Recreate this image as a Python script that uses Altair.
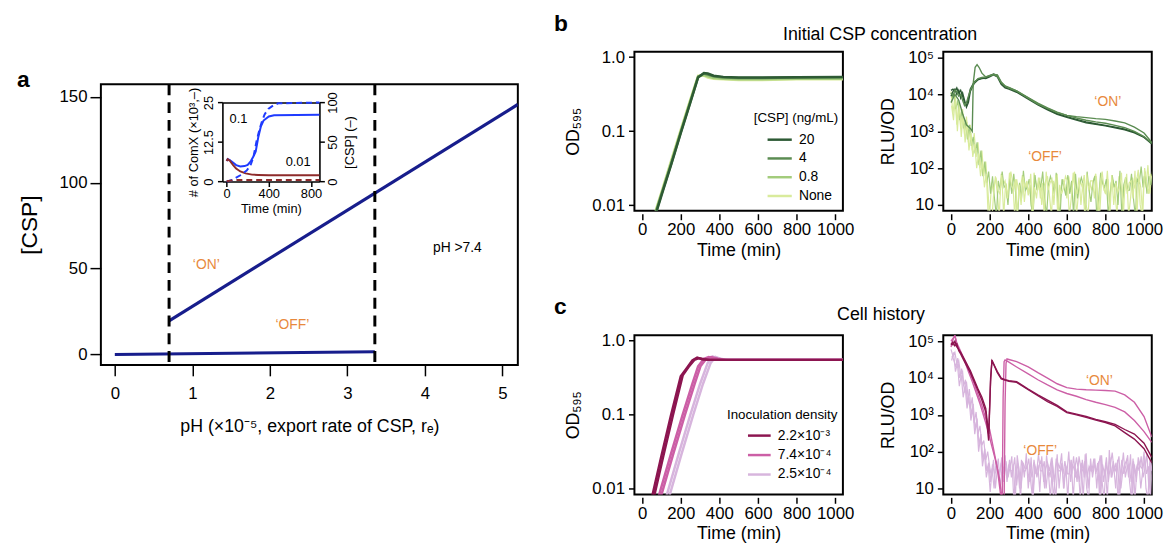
import altair as alt
import pandas as pd

FONT = "Liberation Sans"
ORANGE = "#E8893C"
NAVY = "#171D8C"

# ---------------- panel a : [CSP] vs pH ----------------
a_on_x = [0.70, 5.20]
a_on_y = [19.6, 145.6]
a_off_x = [0.00, 3.355]
a_off_y = [0.0, 1.6]
a_thresholds = [0.70, 3.355]
a_note_text = ["‘ON’", "‘OFF’", "pH >7.4"]
a_note_x = [1.18, 2.29, 4.42]
a_note_y = [52.0, 17.0, 62.0]
a_note_color = [ORANGE, ORANGE, "#000000"]

# inset (time course of ComX / CSP)
in_blue_solid_t = [0, 10, 30, 60, 90, 130, 170, 200, 230, 255, 276, 300, 325, 350, 400, 450, 880]
in_blue_solid_v = [6.5, 7.1, 6.8, 6.0, 5.2, 4.8, 4.9, 5.3, 6.5, 8.0, 9.5, 14.0, 17.5, 19.3, 20.6, 21.0, 21.1]
in_red_solid_t = [0, 10, 30, 60, 90, 130, 180, 240, 300, 400, 880]
in_red_solid_v = [6.5, 7.1, 6.6, 5.3, 4.1, 3.2, 2.6, 2.2, 2.1, 2.0, 2.0]
in_blue_dash_t = [0, 50, 130, 190, 225, 254, 285, 310, 332, 360, 395, 450, 490, 880]
in_blue_dash_v = [0, 2, 8, 14, 20, 31, 52, 65, 75, 85, 92, 97, 99, 100]
in_red_dash_t = [0, 50, 100, 200, 400, 880]
in_red_dash_v = [0.5, 1.5, 2.0, 2.1, 2.1, 2.1]
in_note_text = ["0.1", "0.01"]
in_note_t = [113, 678]
in_note_v = [19.8, 6.1]

# ---------------- panel b : initial CSP concentration ----------------
b_groups = ["20", "4", "0.8", "None"]
b_colors = ["#2D5A34", "#5B8C52", "#A3CC7C", "#D9EB9C"]

b_od_t = [70, 100, 150, 200, 250, 290, 320, 340, 370, 420, 500, 600, 800, 1040]
b_od_20 = [0.0075, 0.0135, 0.035, 0.094, 0.245, 0.53, 0.61, 0.60, 0.56, 0.54, 0.53, 0.53, 0.535, 0.54]
b_od_4 = [0.0078, 0.014, 0.036, 0.096, 0.25, 0.54, 0.60, 0.58, 0.55, 0.53, 0.52, 0.52, 0.53, 0.53]
b_od_08 = [0.0082, 0.0145, 0.038, 0.10, 0.26, 0.55, 0.57, 0.55, 0.52, 0.51, 0.50, 0.50, 0.51, 0.51]
b_od_none = [0.0085, 0.015, 0.040, 0.105, 0.27, 0.56, 0.56, 0.53, 0.51, 0.50, 0.49, 0.49, 0.50, 0.50]

b_on_t = [0, 10, 20, 30, 40, 50, 60, 70, 80, 90, 100, 120, 140, 160, 180, 200, 220, 240, 260, 280,
          300, 340, 400, 450, 500, 550, 600, 650, 700, 750, 800, 850, 900, 950, 1000, 1040]
b_on_A = [13000, 14000, 12000, 15000, 11000, 13000, 9000, 6000, 5000, 8000, 14000, 22000, 26000, 27000,
          28000, 32000, 36000, 33000, 20000, 16000, 15000, 12000, 8000, 5500, 4000, 3000, 2500, 2100,
          1800, 1600, 1450, 1300, 1150, 950, 700, 480]
b_on_B = [9000, 12000, 14000, 10000, 13000, 8000, 11000, 7000, 4500, 6000, 12000, 20000, 25000, 28000,
          27000, 30000, 34000, 30000, 19000, 15000, 14000, 11500, 7500, 5200, 3800, 2900, 2400, 2000,
          1700, 1550, 1400, 1250, 1100, 900, 680, 450]
b_on_D = [11000, 9000, 13000, 12000, 9000, 10000, 7000, 5000, 6000, 9000, 13000, 21000, 27000, 29000,
          30000, 33000, 35000, 31000, 21000, 17000, 15500, 12500, 8200, 5800, 4300, 3300, 2700, 2300,
          2000, 1800, 1650, 1450, 1250, 1000, 720, 470]
b_spike_t = [0, 20, 40, 60, 80, 100, 110, 115, 125, 135, 145, 160, 180, 200, 220, 240, 260, 280, 300,
             340, 400, 450, 500, 550, 600, 650, 700, 750, 800, 850, 900, 950, 1000, 1040]
b_spike_v = [6000, 10000, 7000, 3000, 1500, 1200, 1000, 20000, 55000, 65000, 55000, 38000, 30000, 32000,
             35000, 34000, 22000, 17000, 15000, 12500, 8000, 5500, 4200, 3200, 2700, 2500, 2350, 2200,
             2100, 1900, 1700, 1300, 900, 500]

# OFF traces, sampled every 10 min (start given per trace)
b_off1 = [12000, 3000, 9000, 1500, 6000, 1200, 4000, 800, 2500, 500, 1500, 300, 900, 200, 500, 100, 300, 60, 150, 30, 5,
          40, 22, 60, 20, 5, 70, 35, 45, 15, 30, 80, 40, 5, 50, 25, 30, 65, 12, 40, 18,
          35, 5, 75, 40, 25, 55, 10, 30, 45, 60, 18, 5, 45, 28, 70, 5, 25, 50, 35, 15,
          60, 22, 35, 80, 5, 20, 45, 30, 65, 10, 5, 40, 25, 50, 70, 15, 5, 50, 30, 20,
          85, 12, 40, 45, 20, 5, 60, 35, 15, 25, 70, 5, 15, 55, 30, 40, 90, 10, 5, 60, 30, 120, 20, 60]
b_off2 = [8000, 11000, 4000, 7000, 2000, 3500, 1200, 2000, 600, 1500, 400, 700, 250, 500, 120, 300, 60, 150, 40, 80, 20,
          60, 15, 5, 45, 25, 80, 30, 35, 10, 55, 20, 70, 20, 5, 40, 15, 85, 25, 30, 50,
          10, 5, 65, 25, 45, 30, 80, 15, 5, 35, 60, 40, 20, 75, 10, 5, 50, 30, 18, 65,
          20, 45, 5, 70, 15, 35, 55, 35, 5, 80, 25, 12, 40, 60, 5, 15, 75, 40, 30, 50,
          5, 20, 65, 30, 45, 10, 85, 5, 35, 55, 25, 25, 70, 15, 5, 50, 40, 110, 30, 80, 20, 60, 35, 90]
b_off3 = [5000, 2000, 10000, 1000, 6000, 700, 3000, 500, 1800, 300, 900, 200, 450, 100, 250, 60, 150, 30, 70, 5, 5,
          5, 30, 55, 25, 20, 65, 5, 40, 15, 75, 35, 25, 50, 5, 35, 10, 60, 30, 45, 20,
          70, 5, 30, 15, 55, 15, 40, 5, 80, 25, 40, 50, 10, 65, 5, 35, 20, 30, 60, 45,
          5, 15, 75, 30, 20, 55, 10, 40, 5, 70, 25, 45, 45, 15, 60, 5, 35, 80, 25, 20,
          50, 5, 65, 10, 40, 22, 30, 75, 5, 55, 20, 40, 45, 15, 85, 5, 60, 30, 5, 100, 40, 20, 70, 50]
b_off_start = [0, 5, 3]
b_note_text = ["‘ON’", "‘OFF’"]
b_note_t = [812, 487]
b_note_v = [6200, 195]

# ---------------- panel c : cell history ----------------
c_groups = ["2.2×10⁻³", "7.4×10⁻⁴", "2.5×10⁻⁴"]
c_colors = ["#8C1550", "#CC5FA6", "#D7B5DD"]

c_od_d1_t = [50, 100, 150, 200, 230, 260, 285, 310, 340, 400, 500, 700, 1040]
c_od_d1_v = [0.0075, 0.028, 0.10, 0.33, 0.42, 0.54, 0.59, 0.56, 0.55, 0.55, 0.55, 0.55, 0.55]
c_od_d2_t = [60, 110, 160, 210, 240, 270, 295, 320, 350, 400, 500, 700, 1040]
c_od_d2_v = [0.0075, 0.028, 0.10, 0.34, 0.44, 0.55, 0.58, 0.56, 0.55, 0.55, 0.55, 0.55, 0.55]
c_od_m1_t = [85, 150, 210, 260, 290, 320, 345, 380, 420, 500, 700, 1040]
c_od_m1_v = [0.0078, 0.03, 0.10, 0.26, 0.45, 0.57, 0.60, 0.57, 0.55, 0.55, 0.55, 0.55]
c_od_m2_t = [97, 162, 222, 272, 302, 332, 357, 392, 432, 500, 700, 1040]
c_od_m2_v = [0.0078, 0.03, 0.10, 0.26, 0.45, 0.57, 0.60, 0.57, 0.55, 0.55, 0.55, 0.55]
c_od_l1_t = [125, 190, 250, 300, 340, 365, 390, 430, 500, 700, 1040]
c_od_l1_v = [0.0078, 0.03, 0.10, 0.26, 0.50, 0.61, 0.58, 0.55, 0.55, 0.55, 0.55]
c_od_l2_t = [140, 205, 265, 315, 355, 380, 405, 445, 500, 700, 1040]
c_od_l2_v = [0.0078, 0.03, 0.10, 0.26, 0.50, 0.60, 0.57, 0.55, 0.55, 0.55, 0.55]

c_dark_t = [0, 10, 20, 30, 40, 50, 60, 80, 100, 120, 140, 160, 180, 195, 205, 212, 220, 240, 260, 280,
            300, 340, 400, 450, 500, 550, 600, 650, 700, 750, 800, 850, 900, 950, 1000, 1040]
c_dark_E = [90000, 80000, 100000, 70000, 60000, 50000, 40000, 25000, 16000, 9000, 5000, 3000, 1500, 300,
            8000, 31000, 25000, 15000, 10000, 9000, 8500, 8000, 5000, 3500, 2500, 1800, 1200, 1050, 900,
            750, 650, 550, 400, 300, 170, 70]
c_dark_F = [80000, 95000, 75000, 85000, 55000, 45000, 35000, 22000, 14000, 8000, 4500, 2500, 1200, 200,
            10000, 29000, 24000, 14000, 9500, 8800, 8200, 7600, 4800, 3300, 2300, 1700, 1150, 1000, 850,
            720, 620, 500, 330, 220, 120, 50]
c_mid_G_t = [0, 10, 20, 30, 40, 60, 80, 100, 120, 140, 160, 180, 200, 220, 240, 255, 265, 270, 275, 280,
             300, 340, 400, 450, 500, 550, 600, 650, 700, 750, 800, 850, 900, 950, 1000, 1040]
c_mid_G = [100000, 120000, 140000, 90000, 70000, 40000, 25000, 13000, 7000, 3500, 1800, 800, 400, 120, 35,
           8, 3, 3000, 28000, 31000, 27000, 20000, 13000, 9000, 6500, 4800, 3800, 3200, 2600, 2200, 1900,
           1600, 1200, 700, 350, 180]
c_mid_H_t = [0, 10, 20, 30, 50, 70, 90, 110, 130, 150, 170, 190, 210, 230, 250, 265, 275, 280, 285, 290,
             300, 340, 400, 450, 500, 550, 600, 650, 700, 750, 800, 850, 900, 950, 1000, 1040]
c_mid_H = [70000, 110000, 150000, 80000, 50000, 30000, 15000, 8000, 4000, 2000, 900, 400, 150, 60, 20, 5, 4,
           2000, 25000, 33000, 32000, 28000, 20000, 14000, 10000, 7000, 5500, 5000, 4800, 4700, 4600, 4400,
           3500, 2200, 900, 250]
c_off1 = [60000, 40000, 50000, 25000, 30000, 12000, 15000, 4000, 8000, 2500, 1500, 3000, 600, 1200, 300, 500, 150, 200, 60, 100, 40,
          20, 60, 10, 35, 25, 50, 25, 80, 15, 45, 30, 30, 70, 12, 40, 5, 55, 20, 90, 10,
          35, 20, 60, 25, 45, 8, 75, 15, 35, 50, 30, 65, 5, 20, 85, 10, 40, 25, 55, 25,
          100, 15, 45, 30, 70, 30, 5, 60, 20, 90, 10, 40, 30, 65, 25, 50, 5, 80, 15, 35,
          5, 110, 20, 55, 30, 40, 75, 10, 30, 45, 60, 20, 85, 5, 45, 15, 70, 40, 35, 100, 10, 5, 60, 30]
c_off2 = [40000, 30000, 20000, 35000, 10000, 18000, 6000, 9000, 2000, 5000, 1000, 2000, 400, 800, 150, 300, 60, 120, 30, 50, 15,
          45, 25, 30, 65, 10, 40, 35, 55, 20, 35, 75, 5, 25, 50, 10, 60, 30, 30, 45, 15,
          70, 5, 40, 20, 40, 55, 35, 10, 80, 25, 5, 45, 15, 65, 30, 30, 50, 10, 40, 5,
          60, 25, 75, 20, 35, 15, 50, 5, 85, 20, 40, 30, 30, 65, 10, 55, 5, 45, 25, 70,
          15, 40, 95, 30, 50, 5, 20, 60, 25, 40, 80, 15, 5, 55, 25, 45, 30, 75, 20, 35, 90, 10, 50, 25]
c_off3 = [30000, 50000, 15000, 25000, 6000, 12000, 3000, 6000, 1500, 3000, 700, 1500, 300, 700, 100, 250, 40, 90, 20, 40, 8,
          35, 10, 55, 30, 25, 70, 15, 40, 20, 60, 20, 45, 5, 80, 30, 10, 50, 35, 35, 65,
          15, 5, 45, 25, 85, 30, 30, 55, 10, 40, 20, 70, 20, 5, 50, 35, 90, 10, 45, 25,
          25, 60, 5, 40, 15, 75, 35, 30, 55, 10, 5, 65, 20, 45, 30, 35, 80, 15, 5, 50,
          25, 70, 20, 40, 10, 60, 5, 30, 95, 20, 40, 45, 15, 65, 5, 35, 55, 10, 30, 75, 25, 40, 5, 60]
c_off_start = [0, 5, 3]
c_note_text = ["‘ON’", "‘OFF’"]
c_note_t = [769, 462]
c_note_v = [8100, 105]

# ---------------- layout constants ----------------
SPACER_H = 17
S_TOP = 34
S_ROWS = 35
S_COLS = 101.6
PW, PH = 211, 161


def trace_df(t, v, trace, grp):
    return pd.DataFrame({"t": t, "v": v, "trace": trace, "grp": grp})


def sampled_df(v, start, trace, grp):
    return trace_df([start + 10 * i for i in range(len(v))], v, trace, grp)


one = pd.DataFrame({"k": [0]})

# ================= panel a =================
ax_main_x = alt.Axis(values=[0, 1, 2, 3, 4, 5], title="pH (×10⁻⁵, export rate of CSP, rₑ)", format="d",
                     tickSize=11, labelFontSize=17, titleFontSize=18, labelPadding=10, titlePadding=16,
                     domain=False, labelFlush=False, labelOverlap=False)
ax_main_y = alt.Axis(values=[0, 50, 100, 150], title="[CSP]", format="d", tickSize=11, labelFontSize=17,
                     titleFontSize=23, labelPadding=3, titlePadding=18, domain=False)
mx = alt.X("x:Q", scale=alt.Scale(domain=[-0.18, 5.2], nice=False, zero=False), axis=ax_main_x)
my = alt.Y("y:Q", scale=alt.Scale(domain=[-6.1, 157.3], nice=False, zero=False), axis=ax_main_y)

a_on = alt.Chart(pd.DataFrame({"x": a_on_x, "y": a_on_y})).mark_line(color=NAVY, strokeWidth=3.2, clip=True).encode(x=mx, y=my)
a_off = alt.Chart(pd.DataFrame({"x": a_off_x, "y": a_off_y})).mark_line(color=NAVY, strokeWidth=3.2, clip=True).encode(x=mx, y=my)
a_rules = alt.Chart(pd.DataFrame({"x": a_thresholds})).mark_rule(color="black", strokeWidth=3, strokeDash=[11, 7]).encode(x=mx)
a_notes = alt.Chart(pd.DataFrame({"x": a_note_x, "y": a_note_y, "label": a_note_text, "c": a_note_color})).mark_text(
    fontSize=14).encode(x=mx, y=my, text="label:N", color=alt.Color("c:N", scale=None))
a_letter = alt.Chart(one).mark_text(text="a", fontSize=23, fontWeight="bold", align="left", baseline="alphabetic").encode(
    x=alt.value(-85), y=alt.value(3))
main_group = alt.layer(a_on, a_off, a_rules, a_notes, a_letter)

ax_in_x = alt.Axis(orient="bottom", offset=-185.6, values=[0, 400, 800], format="d", title="Time (min)",
                   tickSize=5, labelFontSize=13, titleFontSize=13, labelPadding=1, titlePadding=2,
                   domain=True, labelFlush=False, labelOverlap=False)
ax_in_yl = alt.Axis(orient="left", offset=-123, values=[0, 12.5, 25], title="# of ComX (×10³,–)",
                    labelExpr="datum.value == 12.5 ? '12.5' : format(datum.value, 'd')",
                    tickSize=5, labelFontSize=13, titleFontSize=13, labelAngle=270, labelAlign="center",
                    labelBaseline="bottom", labelPadding=2, titlePadding=2, domain=True, labelOverlap=False)
ax_in_yr = alt.Axis(orient="right", offset=-200.8, values=[0, 50, 100], format="d", title="[CSP] (–)",
                    tickSize=5, labelFontSize=13, titleFontSize=13, labelAngle=270, labelAlign="center",
                    labelBaseline="top", labelPadding=2, titlePadding=4, titleAngle=270, titleBaseline="top",
                    domain=True, labelOverlap=False)
ax_in_top = alt.Axis(orient="top", offset=-18.4, ticks=False, labels=False, title=None, domain=True)

ix_scale = alt.Scale(domain=[-40, 880], range=[123, 221.2], nice=False, zero=False)
ix = alt.X("t:Q", scale=ix_scale, axis=ax_in_x)
ix2 = alt.X("t:Q", scale=ix_scale, axis=ax_in_top)
iyl = alt.Y("v:Q", scale=alt.Scale(domain=[0, 25], range=[98.4, 18.4], nice=False, zero=False), axis=ax_in_yl)
iyr = alt.Y("v:Q", scale=alt.Scale(domain=[0, 100], range=[98.4, 18.4], nice=False, zero=False), axis=ax_in_yr)

in_blue = alt.Chart(pd.DataFrame({"t": in_blue_solid_t, "v": in_blue_solid_v})).mark_line(color="#1F3BFF", strokeWidth=2).encode(x=ix, y=iyl)
in_red = alt.Chart(pd.DataFrame({"t": in_red_solid_t, "v": in_red_solid_v})).mark_line(color="#8E2B2B", strokeWidth=2).encode(x=ix, y=iyl)
in_notes = alt.Chart(pd.DataFrame({"t": in_note_t, "v": in_note_v, "label": in_note_text})).mark_text(fontSize=13, color="black").encode(
    x=ix, y=iyl, text="label:N")
inset_left = alt.layer(in_blue, in_red, in_notes)

in_blue_d = alt.Chart(pd.DataFrame({"t": in_blue_dash_t, "v": in_blue_dash_v})).mark_line(color="#1F3BFF", strokeWidth=2, strokeDash=[6, 4]).encode(x=ix2, y=iyr)
in_red_d = alt.Chart(pd.DataFrame({"t": in_red_dash_t, "v": in_red_dash_v})).mark_line(color="#8E2B2B", strokeWidth=2, strokeDash=[6, 4]).encode(x=ix2, y=iyr)
inset_right = alt.layer(in_blue_d, in_red_d)

panel_a = alt.layer(main_group, inset_left, inset_right).resolve_scale(
    x="independent", y="independent").resolve_axis(x="independent", y="independent").properties(width=422, height=284)

spacer = alt.Chart(one).mark_point(opacity=0).encode(x=alt.value(0), y=alt.value(0)).properties(
    width=10, height=SPACER_H, view=alt.ViewBackground(strokeOpacity=0, strokeWidth=0))
left_col = alt.vconcat(spacer, panel_a, spacing=0)

# ================= panels b, c =================
ax_time = alt.Axis(values=[0, 200, 400, 600, 800, 1000], format="d", title="Time (min)", tickSize=6, offset=3,
                   labelFontSize=17, titleFontSize=18, labelPadding=2, titlePadding=4, domain=False,
                   labelFlush=False, labelOverlap=False)
ax_od = alt.Axis(values=[0.01, 0.1, 1.0], title="OD₅₉₅",
                 labelExpr="datum.value > 0.5 ? '1.0' : datum.value > 0.05 ? '0.1' : '0.01'",
                 tickSize=6, labelFontSize=17, titleFontSize=18, labelPadding=4, titlePadding=10, domain=False,
                 labelFlush=False, labelOverlap=False)
ax_rlu = alt.Axis(values=[10, 100, 1000, 10000, 100000], title="RLU/OD",
                  labelExpr="datum.value < 50 ? '10' : datum.value < 500 ? '10²' : datum.value < 5000 ? '10³' : datum.value < 50000 ? '10⁴' : '10⁵'",
                  tickSize=6, labelFontSize=17, titleFontSize=18, labelPadding=4, titlePadding=10, domain=False,
                  labelFlush=False, labelOverlap=False)
tx = alt.X("t:Q", scale=alt.Scale(domain=[-40, 1040], nice=False, zero=False), axis=ax_time)
y_od = alt.Y("v:Q", scale=alt.Scale(type="log", domain=[0.0084, 1.18], nice=False), axis=ax_od)
y_rlu = alt.Y("v:Q", scale=alt.Scale(type="log", domain=[6.9, 145000], nice=False), axis=ax_rlu)


def text_at(label, dx, dy, size, weight="normal", align="center"):
    return alt.Chart(one).mark_text(text=label, fontSize=size, fontWeight=weight, align=align,
                                    baseline="alphabetic", color="black").encode(x=alt.value(dx), y=alt.value(dy))


def notes_layer(ts, vs, labels, y):
    return alt.Chart(pd.DataFrame({"t": ts, "v": vs, "label": labels})).mark_text(
        fontSize=14, color=ORANGE).encode(x=tx, y=y, text="label:N")


# b OD
b_od_df = pd.concat([
    trace_df(b_od_t, b_od_none, "none", "None"),
    trace_df(b_od_t, b_od_08, "08", "0.8"),
    trace_df(b_od_t, b_od_4, "4", "4"),
    trace_df(b_od_t, b_od_20, "20", "20"),
])
b_leg = alt.Legend(orient="none", legendX=120.7, legendY=60, title="[CSP] (ng/mL)", titleFontSize=13.5,
                   titleFontWeight="normal", labelFontSize=14, symbolType="M-2,0L2,0", symbolSize=150,
                   symbolStrokeWidth=2.5, symbolOffset=18.8, labelOffset=12, rowPadding=4, titlePadding=8)
b_od_lines = alt.Chart(b_od_df).mark_line(strokeWidth=2.5, clip=True).encode(
    x=tx, y=y_od, detail="trace:N",
    color=alt.Color("grp:N", scale=alt.Scale(domain=b_groups, range=b_colors), legend=b_leg),
    order=alt.Order("t:Q"))
b_od = alt.layer(b_od_lines, text_at("b", -81.3, -21, 23, "bold", "left")).properties(width=PW, height=PH)

# b RLU
b_off_df = pd.concat([
    sampled_df(b_off1, b_off_start[0], "off1", "None"),
    sampled_df(b_off2, b_off_start[1], "off2", "0.8"),
    sampled_df(b_off3, b_off_start[2], "off3", "None"),
])
b_on_df = pd.concat([
    trace_df(b_on_t, b_on_A, "A", "20"),
    trace_df(b_on_t, b_on_B, "B", "20"),
    trace_df(b_on_t, b_on_D, "D", "4"),
    trace_df(b_spike_t, b_spike_v, "C", "4"),
])
b_col = alt.Color("grp:N", scale=alt.Scale(domain=b_groups, range=b_colors), legend=None)
b_rlu = alt.layer(
    alt.Chart(b_off_df).mark_line(strokeWidth=1.2, clip=True).encode(x=tx, y=y_rlu, color=b_col, detail="trace:N"),
    alt.Chart(b_on_df).mark_line(strokeWidth=1.4, clip=True).encode(x=tx, y=y_rlu, color=b_col, detail="trace:N"),
    notes_layer(b_note_t, b_note_v, b_note_text, y_rlu),
    text_at("Initial CSP concentration", -64, -12, 18),
).properties(width=PW, height=PH)

# c OD
c_od_df = pd.concat([
    trace_df(c_od_l1_t, c_od_l1_v, "l1", c_groups[2]),
    trace_df(c_od_l2_t, c_od_l2_v, "l2", c_groups[2]),
    trace_df(c_od_m1_t, c_od_m1_v, "m1", c_groups[1]),
    trace_df(c_od_m2_t, c_od_m2_v, "m2", c_groups[1]),
    trace_df(c_od_d1_t, c_od_d1_v, "d1", c_groups[0]),
    trace_df(c_od_d2_t, c_od_d2_v, "d2", c_groups[0]),
])
c_leg = alt.Legend(orient="none", legendX=93.7, legendY=74, title="Inoculation density", titleFontSize=13.5,
                   titleFontWeight="normal", labelFontSize=14, symbolType="M-2,0L2,0", symbolSize=132,
                   symbolStrokeWidth=2.5, symbolOffset=25.7, labelOffset=11.7, rowPadding=5.7, titlePadding=7)
c_od_lines = alt.Chart(c_od_df).mark_line(strokeWidth=2.5, clip=True).encode(
    x=tx, y=y_od, detail="trace:N",
    color=alt.Color("grp:N", scale=alt.Scale(domain=c_groups, range=c_colors), legend=c_leg),
    order=alt.Order("t:Q"))
c_od = alt.layer(c_od_lines, text_at("c", -81.3, -21.7, 23, "bold", "left")).properties(width=PW, height=PH)

# c RLU
c_off_df = pd.concat([
    sampled_df(c_off1, c_off_start[0], "off1", c_groups[2]),
    sampled_df(c_off2, c_off_start[1], "off2", c_groups[2]),
    sampled_df(c_off3, c_off_start[2], "off3", c_groups[2]),
])
c_on_df = pd.concat([
    trace_df(c_mid_H_t, c_mid_H, "H", c_groups[1]),
    trace_df(c_mid_G_t, c_mid_G, "G", c_groups[1]),
    trace_df(c_dark_t, c_dark_E, "E", c_groups[0]),
    trace_df(c_dark_t, c_dark_F, "F", c_groups[0]),
])
c_col = alt.Color("grp:N", scale=alt.Scale(domain=c_groups, range=c_colors), legend=None)
c_rlu = alt.layer(
    alt.Chart(c_off_df).mark_line(strokeWidth=1.2, clip=True).encode(x=tx, y=y_rlu, color=c_col, detail="trace:N"),
    alt.Chart(c_on_df).mark_line(strokeWidth=1.4, clip=True).encode(x=tx, y=y_rlu, color=c_col, detail="trace:N"),
    notes_layer(c_note_t, c_note_v, c_note_text, y_rlu),
    text_at("Cell history", -63, -16, 18),
).properties(width=PW, height=PH)

row_b = alt.hconcat(b_od, b_rlu, spacing=S_COLS, bounds="flush").resolve_scale(color="independent")
row_c = alt.hconcat(c_od, c_rlu, spacing=S_COLS, bounds="flush").resolve_scale(color="independent")
right_col = alt.vconcat(row_b, row_c, spacing=S_ROWS).resolve_scale(color="independent")

chart = alt.hconcat(left_col, right_col, spacing=S_TOP).resolve_scale(color="independent").properties(
    padding={"left": 8, "top": 1, "right": 2, "bottom": 2}
).configure_axis(
    labelFont=FONT, titleFont=FONT, titleFontWeight="normal", domainColor="black", tickColor="black",
    labelColor="black", titleColor="black", grid=False, tickWidth=1.5, domainWidth=1.6
).configure_view(stroke="black", strokeWidth=2).configure_text(font=FONT).configure_legend(
    labelFont=FONT, titleFont=FONT, labelColor="black", titleColor="black"
)

chart.save("out.html", embed_options={"renderer": "svg", "actions": False})
